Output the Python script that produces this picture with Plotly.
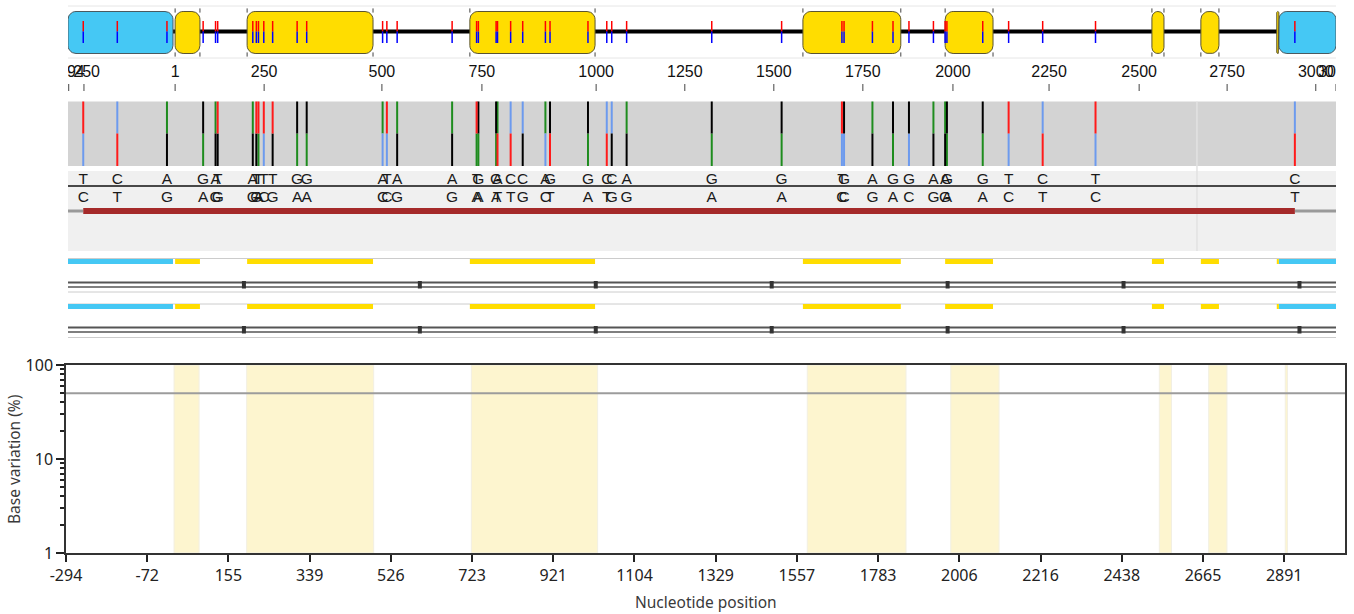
import numpy as np
import plotly.graph_objects as go

W, H = 1354, 614

# ---------------- data (alignment columns) ----------------
ALN_LEN = 3575

top_tick_cols = [2, 45, 302, 553, 885, 1167, 1489, 1739, 1990, 2241, 2495, 2766, 3020, 3268, 3518, 3575]
top_tick_labels = ["-294", "-250", "1", "250", "500", "750", "1000", "1250", "1500", "1750",
                   "2000", "2250", "2500", "2750", "3000", "3056"]

BOTTOM_TICK_STEP = 227
bottom_tick_labels = ["-294", "-72", "155", "339", "526", "723", "921", "1104", "1329",
                      "1557", "1783", "2006", "2216", "2438", "2665", "2891"]

variant_cols = [43, 139, 279, 381, 416, 422, 521, 531, 537, 552, 577, 646, 673, 887, 899, 928,
                1083, 1152, 1157, 1207, 1211, 1248, 1282, 1346, 1359, 1466, 1519, 1533, 1575,
                1815, 2012, 2182, 2188, 2268, 2326, 2371, 2440, 2473, 2478, 2579, 2652, 2748,
                2897, 3459]
ref_bases = list("TCAGATATTTTGGATAATGGACCAGGCCAGGTGAGGAAGGTCTC")
alt_bases = list("CTGAGGGGACGAACCGGAAATTGCTATGGAACCGACGGAACTCT")

cds_blue = [(0, 296), (3414, 3575)]
cds_yellow = [(302, 372), (505, 860), (1133, 1486), (2072, 2348), (2473, 2608),
              (3056, 3090), (3194, 3245), (3408, 3414)]

scale_marks = [496, 992, 1488, 1984, 2480, 2976, 3472]
threshold_pct = 50

# ---------------- styling ----------------
TOP_X0, TOP_X1 = 68, 1336
BOT_X0, BOT_X1 = 66, 1345
BOT_Y0, BOT_Y1 = 365, 553
TOP_H = 345
SX = (TOP_X1 - TOP_X0) / ALN_LEN  # px per column in top tracks

BLUE = "#45C8F4"
YELLOW = "#FFDD00"
BASE_COLORS = {"A": "#1E8C1E", "C": "#6C9AEE", "G": "#000000", "T": "#FF1A1A"}
FONT_TOP = "Liberation Sans, Arial, sans-serif"
FONT_BOT = "Noto Sans, Open Sans, sans-serif"

fig = go.Figure()


def seg_trace(xs_pairs, color, width, xa="x", ya="y"):
    xs, ys = [], []
    for (x0, y0, x1, y1) in xs_pairs:
        xs += [x0, x1, None]
        ys += [y0, y1, None]
    return go.Scatter(x=xs, y=ys, mode="lines", line=dict(color=color, width=width),
                      hoverinfo="skip", showlegend=False, xaxis=xa, yaxis=ya)


def rounded_box(x0, x1, y0, y1, r_px):
    w_px = (x1 - x0) * SX
    r = max(min(r_px, w_px / 2, (y1 - y0) / 2), 0.01)
    rx = r / SX
    pts = []
    corners = [((x1 - rx, y0 + r), 90, 0), ((x1 - rx, y1 - r), 0, -90),
               ((x0 + rx, y1 - r), -90, -180), ((x0 + rx, y0 + r), -180, -270)]
    for (cx, cy), a0, a1 in corners:
        for t in np.linspace(np.radians(a0), np.radians(a1), 8):
            pts.append((cx + rx * np.cos(t), cy - r * np.sin(t)))
    pts.append(pts[0])
    return [p[0] for p in pts], [p[1] for p in pts]


# ---- background panels (shapes) ----
shapes = []
shapes.append(dict(type="line", xref="x", yref="y", x0=0, x1=ALN_LEN, y0=6, y1=6,
                   line=dict(color="#E6E6E6", width=1), layer="below"))
shapes.append(dict(type="line", xref="x", yref="y", x0=0, x1=ALN_LEN, y0=58, y1=58,
                   line=dict(color="#E6E6E6", width=1), layer="below"))
shapes.append(dict(type="rect", xref="x", yref="y", x0=0, x1=ALN_LEN, y0=101.5, y1=166,
                   fillcolor="#D3D3D3", line=dict(width=0), layer="below"))
shapes.append(dict(type="rect", xref="x", yref="y", x0=0, x1=ALN_LEN, y0=171, y1=251,
                   fillcolor="#F0F0F0", line=dict(width=0), layer="below"))
shapes.append(dict(type="line", xref="x", yref="y", x0=3183, x1=3183, y0=101.5, y1=251,
                   line=dict(color="#E2E2E2", width=1.5), layer="below"))
shapes.append(dict(type="line", xref="x", yref="y", x0=0, x1=ALN_LEN, y0=186, y1=186,
                   line=dict(color="#111111", width=1.5), layer="below"))
for gy in [258.5, 292, 304, 337.5]:
    shapes.append(dict(type="line", xref="x", yref="y", x0=0, x1=ALN_LEN, y0=gy, y1=gy,
                       line=dict(color="#CCCCCC", width=1), layer="below"))

# ---- gene track ----
fig.add_trace(seg_trace([(cds_blue[0][1], 31.5, cds_blue[1][0], 31.5)], "#000000", 4))
for (a, b) in cds_blue:
    xs, ys = rounded_box(a, b, 11.5, 53.5, 8)
    fig.add_trace(go.Scatter(x=xs, y=ys, mode="lines", fill="toself", fillcolor=BLUE,
                             line=dict(color="#4A5A60", width=1), hoverinfo="skip", showlegend=False))
for (a, b) in cds_yellow:
    xs, ys = rounded_box(a, b, 11.5, 53.5, 8)
    fig.add_trace(go.Scatter(x=xs, y=ys, mode="lines", fill="toself", fillcolor=YELLOW,
                             line=dict(color="#5A5430", width=1), hoverinfo="skip", showlegend=False))
dx, dy = [], []
for (a, b) in cds_yellow[:-1]:
    for xx in (a, b):
        dx += [xx, xx]
        dy += [10.5, 54.5]
fig.add_trace(go.Scatter(x=dx, y=dy, mode="markers",
                         marker=dict(symbol="line-ns", size=3, line=dict(color="#444", width=1)),
                         hoverinfo="skip", showlegend=False))
fig.add_trace(seg_trace([(c, 21, c, 31.5) for c in variant_cols], "#FF0000", 1.5))
fig.add_trace(seg_trace([(c, 31.5, c, 43) for c in variant_cols], "#0000FF", 1.5))

# ---- top axis ----
fig.add_trace(seg_trace([(c, 84, c, 91) for c in top_tick_cols], "#444444", 1))
fig.add_trace(go.Scatter(x=top_tick_cols, y=[73] * len(top_tick_cols), mode="text",
                         text=top_tick_labels, textposition="middle center",
                         textfont=dict(family=FONT_TOP, size=16, color="#111"),
                         cliponaxis=True, hoverinfo="skip", showlegend=False))

# ---- variation panel ----
for base, col in BASE_COLORS.items():
    segs = [(c, 101.5, c, 133.5) for c, r in zip(variant_cols, ref_bases) if r == base]
    segs += [(c, 133.5, c, 166) for c, a in zip(variant_cols, alt_bases) if a == base]
    if segs:
        fig.add_trace(seg_trace(segs, col, 2))

fig.add_trace(go.Scatter(x=variant_cols, y=[180.5] * len(variant_cols), mode="text", text=ref_bases,
                         textfont=dict(family=FONT_TOP, size=15.5, color="#1a1a1a"),
                         cliponaxis=True, hoverinfo="skip", showlegend=False))
fig.add_trace(go.Scatter(x=variant_cols, y=[198] * len(variant_cols), mode="text", text=alt_bases,
                         textfont=dict(family=FONT_TOP, size=15.5, color="#1a1a1a"),
                         cliponaxis=True, hoverinfo="skip", showlegend=False))
vmin, vmax = min(variant_cols), max(variant_cols)
fig.add_trace(seg_trace([(0, 211, vmin, 211), (vmax, 211, ALN_LEN, 211)], "#9A9A9A", 3))
fig.add_trace(seg_trace([(vmin, 211, vmax, 211)], "#A52A2A", 6))

# ---- feature rows ----
for bar_y, dbl_y in [(261.5, 282.5), (306.5, 327.5)]:
    fig.add_trace(seg_trace([(a, bar_y, b, bar_y) for a, b in cds_blue], BLUE, 5))
    fig.add_trace(seg_trace([(a, bar_y, b, bar_y) for a, b in cds_yellow], YELLOW, 5))
    fig.add_trace(seg_trace([(0, dbl_y, ALN_LEN, dbl_y)], "#555555", 2))
    fig.add_trace(seg_trace([(0, dbl_y + 4.5, ALN_LEN, dbl_y + 4.5)], "#555555", 1.5))
    fig.add_trace(seg_trace([(m, dbl_y - 1.5, m, dbl_y + 6) for m in scale_marks], "#333333", 4))

# ---- bottom plot ----
for (a, b) in cds_yellow:
    shapes.append(dict(type="rect", xref="x2", yref="y2 domain", x0=a, x1=b, y0=0, y1=1,
                       fillcolor="#FDF5CF", line=dict(color="#F2EFE2", width=1), layer="below"))
fig.add_trace(go.Scatter(x=[0, ALN_LEN], y=[threshold_pct, threshold_pct], mode="lines",
                         line=dict(color="#9C9C9C", width=2), hoverinfo="skip", showlegend=False,
                         xaxis="x2", yaxis="y2"))

bottom_tick_vals = [i * BOTTOM_TICK_STEP for i in range(len(bottom_tick_labels))]

annotations = [
    dict(text="Nucleotide position", xref="paper", yref="paper",
         x=(BOT_X0 + BOT_X1) / 2 / W, y=1 - 602 / H, xanchor="center", yanchor="middle",
         showarrow=False, font=dict(family=FONT_BOT, size=15.5, color="#3a3a3a")),
    dict(text="Base variation (%)", xref="paper", yref="paper",
         x=14 / W, y=1 - (BOT_Y0 + BOT_Y1) / 2 / H, xanchor="center", yanchor="middle",
         textangle=-90, showarrow=False, font=dict(family=FONT_BOT, size=15.5, color="#3a3a3a")),
]

fig.update_layout(
    width=W, height=H, autosize=False,
    margin=dict(l=0, r=0, t=0, b=0, pad=0),
    paper_bgcolor="white", plot_bgcolor="rgba(0,0,0,0)",
    shapes=shapes, annotations=annotations,
    xaxis=dict(domain=[TOP_X0 / W, TOP_X1 / W], range=[0, ALN_LEN], visible=False,
               fixedrange=True, automargin=False),
    yaxis=dict(domain=[1 - TOP_H / H, 1], range=[TOP_H, 0], visible=False,
               fixedrange=True, automargin=False),
    xaxis2=dict(domain=[BOT_X0 / W, BOT_X1 / W], range=[0, ALN_LEN], anchor="y2",
                tickvals=bottom_tick_vals, ticktext=bottom_tick_labels, automargin=False,
                ticks="outside", ticklen=7, tickwidth=1.5, tickcolor="#222",
                showline=True, mirror=True, linecolor="#333", linewidth=1.5,
                showgrid=False, zeroline=False,
                tickfont=dict(family=FONT_BOT, size=16, color="#222")),
    yaxis2=dict(domain=[1 - BOT_Y1 / H, 1 - BOT_Y0 / H], type="log", range=[0, 2], anchor="x2",
                tickvals=[1, 10, 100], ticktext=["1", "10", "100"], automargin=False,
                ticks="outside", ticklen=8, tickwidth=1.5, tickcolor="#222",
                minor=dict(ticks="outside", ticklen=4, tickcolor="#222",
                           tickvals=[2, 3, 4, 5, 6, 7, 8, 9, 20, 30, 40, 50, 60, 70, 80, 90]),
                showline=True, mirror=True, linecolor="#333", linewidth=1.5,
                showgrid=False, zeroline=False,
                tickfont=dict(family=FONT_BOT, size=16, color="#222")),
)

fig.write_html("out.html", config={"displayModeBar": False},
               post_script="document.body.style.margin='0px';")
